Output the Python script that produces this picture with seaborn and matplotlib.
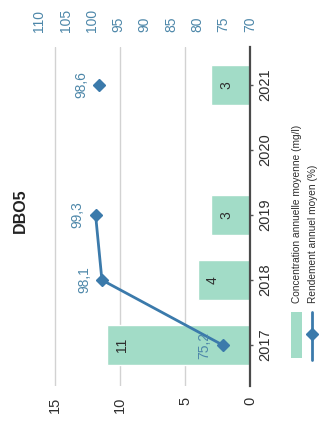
import numpy as np
import pandas as pd
import matplotlib
matplotlib.use("Agg")
import matplotlib.pyplot as plt
import seaborn as sns
from matplotlib.patches import Rectangle
from matplotlib.lines import Line2D

# ---- data ----
years = ["2017", "2018", "2019", "2020", "2021"]
concentration = [11, 4, 3, np.nan, 3]
rendement = [75.2, 98.1, 99.3, np.nan, 98.6]
conc_ticks = [0, 5, 10, 15]
rend_ticks = [70, 75, 80, 85, 90, 95, 100, 105, 110]
title = "DBO5"
legend_labels = ["Concentration annuelle moyenne (mg/l)", "Rendement annuel moyen (%)"]

sns.set_theme(style="white")
plt.rcParams["font.family"] = ["Liberation Sans", "DejaVu Sans"]

BAR = "#a2dcc7"
LINE = "#3b7aab"
LBL = "#4d87a9"
DARK = "#2e2e2e"

W, H = 321, 421
fig = plt.figure(figsize=(W / 100, H / 100), dpi=100)
ax = fig.add_axes([39 / W, 1 - 386 / H, 211 / W, 339 / H])

df = pd.DataFrame({"year": years, "conc": concentration}).dropna()
sns.barplot(data=df, x="conc", y="year", order=years, orient="h", color=BAR,
            saturation=1, width=0.63, errorbar=None, ax=ax)

# bar value labels
for i, v in enumerate(concentration):
    if np.isnan(v):
        continue
    ax.annotate(f"{v:g}", xy=(v, i), xytext=(15, 0), textcoords="offset pixels",
                rotation=90, ha="center", va="center", fontsize=10, color=DARK)

ax.set_xlim(211 / 13, 0)
ax.set_xticks(conc_ticks)
ax.set_xticklabels([str(t) for t in conc_ticks], rotation=90, fontsize=10.5, color=DARK)
ax.tick_params(axis="x", length=0, pad=8)

ax.yaxis.tick_right()
ax.set_yticks(range(len(years)))
ax.set_yticklabels(years, rotation=90, va="center", fontsize=10.5, color=DARK)
ax.tick_params(axis="y", right=True, left=False, length=2.5, width=1,
               color="#555555", pad=3.5, direction="out")
ax.set_xlabel("")
ax.set_ylabel("")
for s in ["left", "top", "bottom"]:
    ax.spines[s].set_visible(False)
ax.spines["right"].set_visible(True)
ax.spines["right"].set_color("#4a4a4a")
ax.spines["right"].set_linewidth(1.6)
ax.grid(axis="x", color="#d2d2d2", linewidth=1)
ax.grid(axis="y", visible=False)
ax.set_axisbelow(True)

# secondary axis (rendement)
ax2 = ax.twiny()
ax2.set_xlim(70 + 211 / 5.27, 70)
ax2.plot(rendement, range(len(years)), color=LINE, lw=2, marker="D", ms=6)
for i, v in enumerate(rendement):
    if np.isnan(v):
        continue
    ax2.annotate(f"{v:.1f}".replace(".", ","), xy=(v, i), xytext=(-18, 0),
                 textcoords="offset pixels", rotation=90, ha="center", va="center",
                 fontsize=10, color=LBL)
ax2.set_xticks(rend_ticks)
ax2.set_xticklabels([str(t) for t in rend_ticks], rotation=90, fontsize=10, color=LBL)
ax2.tick_params(axis="x", length=0, pad=11)
for s in ax2.spines.values():
    s.set_visible(False)
ax2.grid(False)

ax.set_ylim(-(386 - 345) / 65, 4 + (85 - 47) / 65)

# title
fig.text(20 / W, 1 - 211 / H, title, rotation=90, ha="center", va="center",
         fontsize=11.5, fontweight="bold", color="#222222")

# manual rotated legend
fig.add_artist(Rectangle((291 / W, 1 - 358 / H), 11 / W, 46 / H,
                         transform=fig.transFigure, facecolor=BAR, edgecolor="none"))
fig.add_artist(Line2D([312 / W, 312 / W], [1 - 360 / H, 1 - 312 / H],
                      transform=fig.transFigure, color=LINE, lw=2))
fig.add_artist(Line2D([312 / W], [1 - 334 / H], transform=fig.transFigure,
                      color=LINE, marker="D", ms=6, lw=0))
fig.text(297 / W, 1 - 303 / H, legend_labels[0], rotation=90, ha="center",
         va="bottom", fontsize=7.3, color=DARK)
fig.text(313 / W, 1 - 303 / H, legend_labels[1], rotation=90, ha="center",
         va="bottom", fontsize=7.3, color=DARK)

fig.savefig("out.png", dpi=100)
